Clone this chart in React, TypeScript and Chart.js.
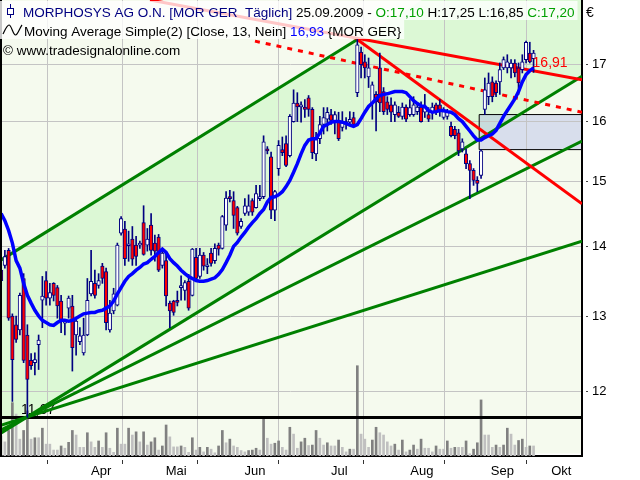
import React, { useEffect, useRef } from 'react';
import { Chart, registerables } from 'chart.js';

Chart.register(...registerables);

// ---------- data (trading-day index 0 = 06.03.2009 ... 142 = 25.09.2009) ----------
const OPEN = [
  13.65, 13.72, 13.94, 13.0, 12.88, 12.81, 13.53, 12.74, 12.4, 12.37,
  12.61, 13.22, 13.5, 13.25, 13.46, 13.4, 13.21, 12.9, 13.11, 13.14,
  12.74, 12.65, 12.5, 12.74, 13.31, 13.46, 13.43, 13.71, 13.63, 12.81,
  13.07, 13.15, 14.2, 14.26, 14.01, 14.11, 14.02, 14.02, 14.36, 14.02,
  14.32, 14.05, 14.14, 13.72, 13.79, 13.18, 13.21, 13.21, 13.4, 13.36,
  13.49, 13.29, 13.84, 13.56, 13.87, 13.7, 13.9, 13.79, 14.02, 13.97,
  14.32, 14.76, 14.7, 14.59, 14.3, 14.5, 14.52, 14.7, 14.59, 14.73,
  14.76, 15.53, 15.4, 14.55, 15.21, 15.52, 15.62, 15.42, 15.99, 16.31,
  16.24, 16.24, 16.4, 16.2, 15.45, 15.7, 15.94, 16.03, 16.11, 15.99,
  15.99, 15.89, 15.94, 15.98, 16.06, 16.49, 17.22, 17.04, 16.77, 16.31,
  16.46, 16.93, 16.51, 16.33, 16.28, 16.11, 16.15, 16.08, 16.24, 16.11,
  16.11, 16.16, 16.24, 16.15, 16.11, 16.16, 16.28, 16.28, 16.06, 16.08,
  15.91, 15.86, 15.8, 15.53, 15.45, 15.29, 15.18, 15.02, 15.1, 16.2,
  16.42, 16.68, 16.66, 16.68, 16.93, 16.93, 16.93, 17.02, 16.93, 16.9,
  17.08, 17.2, 17.1,
];
const HIGH = [
  13.71, 13.94, 13.97, 13.03, 13.0, 13.32, 13.6, 12.88, 12.49, 12.5,
  12.74, 13.56, 13.63, 13.46, 13.47, 13.43, 13.29, 12.94, 13.28, 13.29,
  12.97, 12.84, 12.97, 13.53, 13.94, 13.65, 13.6, 13.75, 13.68, 13.22,
  13.39, 14.05, 14.45, 14.38, 14.23, 14.3, 14.15, 14.08, 14.62, 14.27,
  14.5, 14.17, 14.18, 13.97, 13.9, 13.21, 13.22, 13.35, 13.57, 13.5,
  13.59, 13.97, 13.97, 13.97, 13.91, 13.82, 13.97, 14.04, 14.05, 14.47,
  14.84, 14.86, 14.84, 14.61, 14.42, 14.73, 14.79, 14.73, 14.94, 14.94,
  15.75, 15.57, 15.48, 14.86, 15.67, 15.73, 15.75, 16.11, 16.54, 16.49,
  16.33, 16.37, 16.44, 16.23, 15.81, 16.08, 16.23, 16.23, 16.2, 16.16,
  16.15, 16.16, 16.06, 16.16, 16.15, 17.45, 17.31, 17.17, 17.11, 16.68,
  16.51, 17.2, 16.58, 16.42, 16.4, 16.33, 16.25, 16.31, 16.28, 16.37,
  16.42, 16.28, 16.33, 16.46, 16.23, 16.31, 16.31, 16.37, 16.23, 16.2,
  15.98, 15.91, 15.86, 15.7, 15.53, 15.34, 15.21, 15.08, 15.52, 16.75,
  16.84, 16.77, 16.7, 17.02, 17.13, 17.17, 17.08, 17.08, 17.02, 17.17,
  17.42, 17.4, 17.25,
];
const LOW = [
  13.36, 13.68, 12.94, 11.87, 12.64, 12.74, 12.37, 11.67, 12.28, 12.21,
  12.28, 12.84, 13.15, 13.15, 13.21, 12.97, 12.77, 12.74, 12.97, 12.26,
  12.47, 12.61, 12.47, 12.73, 13.28, 13.25, 13.39, 13.46, 12.81, 12.78,
  13.03, 13.14, 14.17, 13.72, 13.78, 13.72, 13.72, 13.97, 13.87, 13.93,
  13.87, 13.78, 13.63, 13.68, 13.14, 12.84, 13.01, 13.14, 13.22, 13.22,
  13.08, 13.28, 13.5, 13.53, 13.65, 13.6, 13.71, 13.75, 13.87, 13.96,
  14.24, 14.68, 14.27, 14.17, 14.27, 14.47, 14.47, 14.47, 14.58, 14.7,
  14.73, 15.45, 14.42, 14.39, 15.1, 15.42, 15.24, 15.4, 15.98, 15.99,
  15.98, 16.06, 16.08, 15.37, 15.34, 15.62, 15.78, 15.83, 15.94, 15.78,
  15.67, 15.83, 15.86, 15.93, 15.91, 16.42, 16.75, 16.75, 16.58, 16.03,
  15.83, 16.16, 16.11, 16.11, 15.99, 15.99, 16.06, 16.03, 15.99, 16.08,
  16.08, 16.11, 15.98, 16.06, 15.99, 16.03, 16.11, 16.08, 16.03, 16.03,
  15.73, 15.7, 15.42, 15.48, 15.21, 14.73, 14.94, 14.84, 15.05, 16.11,
  16.28, 16.33, 16.42, 16.46, 16.9, 16.84, 16.75, 16.77, 16.46, 16.84,
  17.02, 17.02, 16.85,
];
const CLOSE = [
  13.5, 13.85, 12.97, 12.41, 12.68, 13.29, 12.4, 12.15, 12.33, 12.41,
  12.67, 13.28, 13.25, 13.33, 13.29, 13.14, 12.94, 12.92, 13.25, 12.57,
  12.93, 12.73, 12.74, 13.22, 13.49, 13.29, 13.5, 13.53, 12.91, 13.04,
  13.31, 14.02, 14.42, 13.82, 14.02, 13.81, 13.85, 14.05, 13.88, 14.11,
  13.94, 13.93, 13.65, 13.9, 13.28, 13.07, 13.05, 13.19, 13.43, 13.47,
  13.11, 13.96, 13.53, 13.87, 13.71, 13.71, 13.75, 13.97, 13.96, 14.45,
  14.74, 14.73, 14.47, 14.2, 14.38, 14.62, 14.62, 14.52, 14.81, 14.76,
  15.65, 15.5, 14.55, 14.84, 15.59, 15.47, 15.26, 16.08, 16.31, 16.24,
  16.28, 16.2, 16.2, 15.47, 15.7, 15.94, 16.06, 16.15, 16.01, 16.11,
  15.7, 15.99, 15.99, 16.03, 15.94, 17.35, 16.99, 16.93, 16.93, 16.63,
  16.33, 16.31, 16.16, 16.2, 16.15, 16.28, 16.08, 16.24, 16.03, 16.23,
  16.28, 16.24, 15.99, 16.24, 16.03, 16.24, 16.15, 16.16, 16.16, 16.15,
  15.75, 15.75, 15.5, 15.65, 15.29, 15.18, 15.02, 14.97, 15.5, 16.54,
  16.66, 16.42, 16.49, 16.9, 17.08, 17.04, 17.02, 16.84, 16.66, 17.04,
  17.4, 17.04, 17.2,
];
// volume in thousand shares
const VOLUME = [
  44, 31, 56, 117, 92, 37, 56, 99, 37, 40,
  40, 61, 26, 26, 13, 13, 22, 17, 30, 56,
  46, 19, 19, 51, 31, 19, 33, 19, 51, 17,
  8, 61, 26, 26, 61, 46, 53, 31, 53, 24,
  31, 40, 13, 22, 68, 42, 20, 20, 22, 19,
  8, 40, 13, 19, 9, 19, 15, 7, 22, 56,
  29, 37, 22, 19, 12, 9, 12, 13, 17, 13,
  81, 39, 26, 28, 33, 19, 13, 63, 48, 17,
  31, 39, 23, 24, 56, 39, 24, 29, 22, 22,
  35, 19, 9, 15, 15, 198, 48, 37, 19, 35,
  63, 51, 46, 31, 22, 26, 13, 35, 9, 13,
  24, 15, 37, 17, 17, 9, 22, 15, 15, 33,
  17, 19, 19, 19, 33, 5, 15, 29, 123, 46,
  46, 19, 24, 19, 24, 61, 48, 24, 34, 37,
  19, 22, 22,
];
// Moving Average Simple (Close, 13) as displayed
const MA13 = [
  14.5, 14.39, 14.24, 14.05, 13.79, 13.68, 13.46, 13.29, 13.18, 13.08,
  13.0, 12.94, 12.91, 12.88, 12.87, 12.91, 12.94, 12.94, 12.93, 12.94,
  12.97, 13.0, 13.03, 13.04, 13.05, 13.05, 13.07, 13.08, 13.11, 13.14,
  13.21, 13.31, 13.4, 13.49, 13.56, 13.6, 13.65, 13.69, 13.74, 13.76,
  13.81, 13.85, 13.91, 13.96, 13.91, 13.82, 13.76, 13.71, 13.65, 13.6,
  13.56, 13.53, 13.5, 13.49, 13.49, 13.5, 13.52, 13.54, 13.59, 13.66,
  13.76, 13.87, 14.0, 14.06, 14.14, 14.21, 14.29, 14.36, 14.42, 14.5,
  14.56, 14.68, 14.75, 14.76, 14.79, 14.84, 14.92, 15.02, 15.15, 15.29,
  15.45, 15.59, 15.68, 15.7, 15.7, 15.8, 15.91, 15.94, 15.98, 15.99,
  15.99, 15.98, 15.96, 15.93, 15.91, 15.94, 16.04, 16.15, 16.25, 16.31,
  16.38, 16.44, 16.46, 16.47, 16.49, 16.51, 16.51, 16.51, 16.49, 16.42,
  16.35, 16.3, 16.26, 16.25, 16.18, 16.15, 16.16, 16.18, 16.18, 16.16,
  16.15, 16.11, 16.04, 15.99, 15.91, 15.83, 15.75, 15.68, 15.68, 15.72,
  15.75, 15.78, 15.84, 15.96, 16.08, 16.18, 16.28, 16.38, 16.51, 16.68,
  16.81, 16.88, 16.93,
];

const MONTH_LABELS = ['Apr', 'Mai', 'Jun', 'Jul', 'Aug', 'Sep', 'Okt'];
const MONTH_STARTS = [17.5, 37.5, 57.5, 79.5, 102.5, 123.5, 145.5];
const PRICE_TICKS = [12, 13, 14, 15, 16, 17];

const X_MIN = -0.3;
const X_MAX = 154.92;
const Y_MIN = 11.23;
const Y_MAX = 18.2;

// drawn trend lines / markers (index, price)
const CHANNEL_UPPER = [{ x: X_MIN, y: 13.79 }, { x: 95, y: 17.45 }];
const CHANNEL_UPPER_EXT = [{ x: X_MIN, y: 13.79 }, { x: X_MAX, y: 20.22 }];
const CHANNEL_LOWER = [{ x: X_MIN, y: 11.47 }, { x: X_MAX, y: 16.78 }];
const FAN_MID = [{ x: X_MIN, y: 11.51 }, { x: X_MAX, y: 15.66 }];
const FAN_LOW = [{ x: X_MIN, y: 11.57 }, { x: X_MAX, y: 14.08 }];
const RED_DOWN = [{ x: 95, y: 17.45 }, { x: X_MAX, y: 14.65 }];
const RED_FLAT = [{ x: 39.7, y: 18.2 }, { x: X_MAX, y: 16.72 }];
const RED_DOTTED = [{ x: 67.7, y: 17.42 }, { x: X_MAX, y: 16.15 }];
const SUPPORT = 11.67;
const SUPPORT_LABEL_AT = 5.3;
const TREND_LABEL = '16,91';
const TREND_LABEL_VALUE = 16.91;
const GAP_INDEX = 129;

const DATE_LABEL = '25.09.2009';
const INSTRUMENT = 'MORPHOSYS AG O.N. [MOR GER  Täglich]';
const MA_LABEL = 'Moving Average Simple(2) [Close, 13, Nein]';
const MA_SUFFIX = '{MOR GER}';
const COPYRIGHT = '© www.tradesignalonline.com';

const FONT = '"Liberation Sans", Arial, sans-serif';
const PLOT_BG = '#f5faee';
const CHANNEL_BG = '#dcf8d5';
const GREEN = '#008000';
const RED = '#ff0000';
const BLUE = '#0000ff';
const NAVY = '#000080';
const GRID = '#c4c4c4';

const fmt = (v: number) => v.toFixed(2).replace('.', ',');

export default function App() {
  const ref = useRef<HTMLCanvasElement>(null);

  useEffect(() => {
    const canvas = ref.current;
    if (!canvas) return;
    const n = OPEN.length;
    const last = n - 1;

    const labelPos = MONTH_LABELS.map((_, k) =>
      k < MONTH_STARTS.length - 1 ? (MONTH_STARTS[k] + MONTH_STARTS[k + 1]) / 2 : (MONTH_STARTS[k] + X_MAX) / 2
    );
    const xTicks = [...MONTH_STARTS, ...labelPos].sort((a, b) => a - b);

    const gapTop = LOW[GAP_INDEX];
    const gapBottom = HIGH[GAP_INDEX - 1];
    const gapStart = GAP_INDEX - 1.5;

    const line = (data: any[], color: string, width: number, order: number, extra: any = {}) => ({
      type: 'line',
      data,
      borderColor: color,
      borderWidth: width,
      pointRadius: 0,
      fill: false,
      tension: 0,
      order,
      ...extra,
    });

    const volColors = VOLUME.map((v, i) => (i > 0 && v > VOLUME[i - 1] ? '#808080' : '#c0c0c0'));
    const bodyColors = OPEN.map((o, i) => (CLOSE[i] >= o ? '#ffffff' : RED));

    const datasets: any[] = [
      // 0 plot background
      {
        type: 'line',
        data: [{ x: X_MIN, y: Y_MAX }, { x: X_MAX, y: Y_MAX }],
        borderColor: 'transparent',
        borderWidth: 0,
        pointRadius: 0,
        fill: { value: Y_MIN },
        backgroundColor: PLOT_BG,
        order: 100,
      },
      // 1 channel fill boundary
      {
        type: 'line',
        data: CHANNEL_UPPER_EXT,
        borderColor: 'transparent',
        borderWidth: 0,
        pointRadius: 0,
        fill: 2,
        backgroundColor: CHANNEL_BG,
        order: 90,
      },
      // 2 channel lower line
      line(CHANNEL_LOWER, GREEN, 3, 40),
      // 3 gap zone top
      line(
        [{ x: gapStart, y: gapTop }, { x: X_MAX, y: gapTop }],
        '#000000',
        1,
        80,
        { fill: 4, backgroundColor: 'rgba(165,172,232,0.36)' }
      ),
      // 4 gap zone bottom
      line([{ x: gapStart, y: gapBottom }, { x: X_MAX, y: gapBottom }], '#000000', 1, 80),
      // 5 gap zone left
      line([{ x: gapStart, y: gapBottom }, { x: gapStart, y: gapTop }], '#000000', 1, 80),
      // 6 volume
      {
        type: 'bar',
        yAxisID: 'y2',
        data: VOLUME.map((v, i) => ({ x: i, y: v })),
        backgroundColor: volColors,
        barThickness: 2,
        grouped: false,
        order: 60,
      },
      // 7 support
      line([{ x: X_MIN, y: SUPPORT }, { x: X_MAX, y: SUPPORT }], '#000000', 3, 50),
      // 8..10 green lines
      line(CHANNEL_UPPER, GREEN, 3, 40),
      line(FAN_MID, GREEN, 3, 40),
      line(FAN_LOW, GREEN, 3, 40),
      // 11..13 red lines
      line(RED_DOWN, RED, 3, 35),
      line(RED_FLAT, RED, 3, 35),
      line(RED_DOTTED, RED, 3, 35, { borderDash: [5, 6] }),
      // 14 wicks
      {
        type: 'bar',
        data: OPEN.map((_, i) => ({ x: i, y: [LOW[i], HIGH[i]] })),
        backgroundColor: NAVY,
        borderWidth: 0,
        barThickness: 1,
        grouped: false,
        order: 20,
      },
      // 15 bodies
      {
        type: 'bar',
        data: OPEN.map((o, i) => ({ x: i, y: [o, CLOSE[i]] })),
        backgroundColor: bodyColors,
        borderColor: NAVY,
        borderWidth: 1,
        borderSkipped: false,
        barThickness: 3.5,
        minBarLength: 2,
        grouped: false,
        order: 15,
      },
      // 16 moving average
      line(MA13.map((v, i) => ({ x: i, y: v })), BLUE, 3.5, 10),
    ];

    const decor = {
      id: 'decor',
      beforeDatasetsDraw(chart: any) {
        const { ctx } = chart;
        const xs = chart.scales.x;
        const ys = chart.scales.y;
        ctx.save();
        ctx.font = `14px ${FONT}`;
        ctx.fillStyle = '#000';
        ctx.textBaseline = 'alphabetic';
        ctx.textAlign = 'left';
        ctx.fillText(fmt(SUPPORT), xs.getPixelForValue(SUPPORT_LABEL_AT), ys.getPixelForValue(SUPPORT) - 3);
        ctx.restore();
      },
      afterDatasetsDraw(chart: any) {
        const { ctx } = chart;
        const xs = chart.scales.x;
        const ys = chart.scales.y;
        ctx.save();
        ctx.font = `14px ${FONT}`;
        ctx.fillStyle = RED;
        ctx.textBaseline = 'alphabetic';
        ctx.textAlign = 'left';
        ctx.fillText(TREND_LABEL, xs.getPixelForValue(last) - 1, ys.getPixelForValue(TREND_LABEL_VALUE) - 2);
        ctx.restore();
      },
      afterDraw(chart: any) {
        const { ctx, chartArea } = chart;
        ctx.save();
        // left border
        ctx.strokeStyle = '#000';
        ctx.lineWidth = 2;
        ctx.beginPath();
        ctx.moveTo(chartArea.left + 1, chartArea.top);
        ctx.lineTo(chartArea.left + 1, chartArea.bottom);
        ctx.stroke();

        ctx.font = `13.5px ${FONT}`;
        ctx.textBaseline = 'alphabetic';
        ctx.textAlign = 'left';
        const row1: [string, string][] = [
          [INSTRUMENT + ' ', NAVY],
          [DATE_LABEL + ' - ', '#000'],
          ['O:' + fmt(OPEN[last]), '#00a000'],
          [' H:' + fmt(HIGH[last]) + ' L:' + fmt(LOW[last]) + ' ', '#000'],
          ['C:' + fmt(CLOSE[last]), '#00a000'],
        ];
        const row2: [string, string][] = [
          [MA_LABEL + ' ', '#000'],
          [fmt(MA13[last]), BLUE],
          [' ' + MA_SUFFIX, '#000'],
        ];
        const width = (segs: [string, string][]) => segs.reduce((s, [t]) => s + ctx.measureText(t).width, 0);
        const x1 = 23;
        const x2 = 24;
        ctx.fillStyle = 'rgba(255,255,255,0.78)';
        ctx.fillRect(0, 1, x1 + width(row1) + 3, 19);
        ctx.fillRect(0, 20, x2 + width(row2) + 3, 19);

        const drawSegs = (segs: [string, string][], x: number, y: number) => {
          let cx = x;
          for (const [t, c] of segs) {
            ctx.fillStyle = c;
            ctx.fillText(t, cx, y);
            cx += ctx.measureText(t).width;
          }
        };
        // candle icon
        ctx.strokeStyle = NAVY;
        ctx.lineWidth = 1;
        ctx.beginPath();
        ctx.moveTo(10.5, 4);
        ctx.lineTo(10.5, 18);
        ctx.stroke();
        ctx.fillStyle = '#ffffff';
        ctx.fillRect(7.5, 8.5, 6, 6);
        ctx.strokeRect(7.5, 8.5, 6, 6);

        // wave icon of the indicator row
        ctx.strokeStyle = '#000';
        ctx.lineWidth = 1.2;
        ctx.beginPath();
        ctx.moveTo(3, 34);
        ctx.bezierCurveTo(5, 30, 7, 25, 9, 25);
        ctx.bezierCurveTo(11.5, 25, 13, 35, 15.5, 35);
        ctx.bezierCurveTo(18, 35, 19.5, 28, 22, 25);
        ctx.stroke();

        drawSegs(row1, x1, 17);
        drawSegs(row2, x2, 36);
        ctx.fillStyle = '#000';
        ctx.fillText(COPYRIGHT, 3, 55);
        ctx.font = `14px ${FONT}`;
        ctx.fillText('€', 586, 17);
        ctx.restore();
      },
    };

    const chart = new Chart(canvas, {
      type: 'line',
      data: { datasets },
      plugins: [decor],
      options: {
        responsive: false,
        animation: false,
        devicePixelRatio: 1,
        events: [],
        layout: { padding: 0, autoPadding: false },
        plugins: {
          legend: { display: false },
          tooltip: { enabled: false },
          filler: { drawTime: 'beforeDraw' },
        },
        scales: {
          x: {
            type: 'linear',
            position: 'bottom',
            min: X_MIN,
            max: X_MAX,
            offset: false,
            afterBuildTicks: (axis: any) => {
              axis.ticks = xTicks.map((v) => ({ value: v }));
            },
            afterFit: (s: any) => {
              s.height = 24;
              s.paddingLeft = 0;
              s.paddingRight = 0;
            },
            ticks: {
              autoSkip: false,
              maxRotation: 0,
              padding: 0,
              labelOffset: -3,
              color: '#000',
              font: { family: FONT, size: 13 },
              callback: (value: any) => {
                const k = labelPos.indexOf(value);
                return k >= 0 ? MONTH_LABELS[k] : '';
              },
            },
            grid: {
              color: (c: any) => (c.tick && MONTH_STARTS.includes(c.tick.value) ? GRID : 'rgba(0,0,0,0)'),
              tickColor: (c: any) => (c.tick && MONTH_STARTS.includes(c.tick.value) ? '#333' : 'rgba(0,0,0,0)'),
              lineWidth: 1,
              tickLength: 8,
              tickBorderDash: [0, 3, 5, 20],
            },
            border: { display: true, color: '#000', width: 2 },
          },
          y: {
            type: 'logarithmic',
            position: 'right',
            min: Y_MIN,
            max: Y_MAX,
            afterBuildTicks: (axis: any) => {
              axis.ticks = PRICE_TICKS.map((v) => ({ value: v }));
            },
            afterFit: (s: any) => {
              s.width = 58;
              s.paddingTop = 0;
              s.paddingBottom = 0;
            },
            ticks: {
              padding: 4,
              color: '#000',
              font: { family: FONT, size: 13 },
              callback: (v: any) => String(v),
            },
            grid: {
              color: GRID,
              lineWidth: 1,
              tickColor: '#444',
              tickLength: 6,
              tickBorderDash: [0, 3, 3, 10],
            },
            border: { display: true, color: '#000', width: 2 },
          },
          y2: {
            type: 'linear',
            display: false,
            min: 0,
            max: 1000,
          },
        },
      } as any,
    } as any);

    return () => chart.destroy();
  }, []);

  return (
    <div style={{ position: 'fixed', left: 0, top: 0, width: 640, height: 480, background: '#ffffff' }}>
      <canvas ref={ref} width={640} height={480} style={{ display: 'block', width: '640px', height: '480px' }} />
    </div>
  );
}
